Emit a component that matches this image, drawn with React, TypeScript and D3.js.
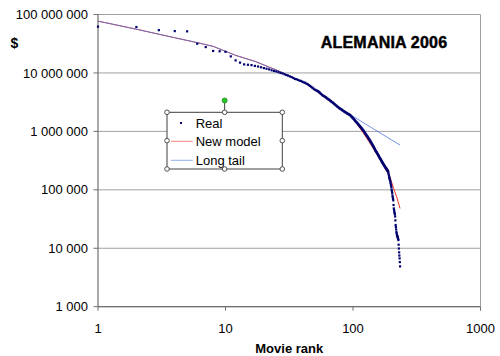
import React from "react";
import * as d3 from "d3";

// Real box office (thousands of $), ranks 1..234
const realValues: number[] = [
  62000, 61000, 54000, 52000, 51500, 31600, 27700, 23800, 23500, 23000,
  19200, 16400, 15000, 14000, 13800, 13600, 13200, 12900, 12500, 12100,
  11800, 11500, 11100, 10800, 10600, 10300, 10000, 9800, 9500, 9200,
  9000, 8700, 8500, 8200, 7900, 7800, 7600, 7400, 7300, 7100,
  6900, 6800, 6600, 6450, 6200, 6000, 5800, 5600, 5400, 5200,
  5100, 5000, 4900, 4750, 4600, 4400, 4250, 4100, 4050, 3950,
  3850, 3750, 3650, 3550, 3480, 3400, 3300, 3200, 3150, 3050,
  2980, 2900, 2830, 2750, 2680, 2620, 2570, 2500, 2450, 2420,
  2380, 2330, 2280, 2240, 2200, 2160, 2130, 2100, 2060, 2030,
  2000, 1980, 1950, 1920, 1900, 1850, 1800, 1760, 1720, 1680,
  1640, 1600, 1560, 1520, 1480, 1450, 1420, 1390, 1350, 1320,
  1290, 1260, 1230, 1200, 1180, 1150, 1120, 1100, 1070, 1050,
  1020, 995, 970, 945, 920, 895, 870, 850, 830, 810,
  790, 770, 750, 730, 715, 695, 675, 660, 640, 624,
  605, 590, 575, 560, 545, 530, 515, 500, 485, 470,
  460, 450, 440, 430, 420, 410, 400, 390, 380, 370,
  360, 352, 345, 338, 330, 322, 315, 308, 300, 294,
  288, 282, 276, 270, 263, 258, 254, 250, 245, 240,
  236, 232, 228, 224, 220, 216, 212, 208, 203, 190,
  178, 168, 160, 153, 147, 140, 132, 124, 117, 110,
  100, 95, 88, 80, 75, 70, 66, 55, 48, 45,
  42, 40, 38, 35, 30, 25, 23, 21, 19, 18,
  17, 16.5, 16, 15.5, 15, 14.5, 13.8, 11.5, 9.9, 8.5,
  7.5, 6.7, 5.8, 4.9,
];

const longTailRanks: number[] = [1, 2, 3, 4, 5, 6, 8, 12, 17, 27, 43, 74, 234];
const longTailValues: number[] = [77e6, 56e6, 46e6, 40e6, 36e6, 33e6, 28.5e6, 20e6, 15.8e6, 10.5e6, 6.5e6, 2.7e6, 582e3];

const newModelRanks: number[] = [1, 2, 3, 4, 5, 6, 8, 12, 17, 27, 43, 74, 83, 95, 120, 153, 195, 210, 220, 234];
const newModelValues: number[] = [77e6, 56e6, 46e6, 40e6, 36e6, 33e6, 28.5e6, 20e6, 15.8e6, 10.5e6, 6.5e6, 2.7e6, 2.3e6, 1.95e6, 0.95e6, 420e3, 166e3, 100e3, 76e3, 48e3];

const yTicks: number[] = [1e3, 1e4, 1e5, 1e6, 1e7, 1e8];
const yTickLabels: string[] = ["1 000", "10 000", "100 000", "1 000 000", "10 000 000", "100 000 000"];
const xTicks: number[] = [1, 10, 100, 1000];
const xTickLabels: string[] = ["1", "10", "100", "1000"];

const legendLabels: string[] = ["Real", "New model", "Long tail"];

const FONT = "Arial, 'Liberation Sans', sans-serif";

export default function App() {
  const W = 500, H = 356;
  const x = d3.scaleLog().domain([1, 1000]).range([98, 480.5]);
  const y = d3.scaleLog().domain([1000, 1e8]).range([306.7, 14.5]);

  const lineGen = d3
    .line<[number, number]>()
    .x((d) => x(d[0]))
    .y((d) => y(d[1]));

  const longTailPath = lineGen(longTailRanks.map((r, i) => [r, longTailValues[i]] as [number, number])) || "";
  const newModelPath = lineGen(newModelRanks.map((r, i) => [r, newModelValues[i]] as [number, number])) || "";

  const left = x(1), right = x(1000), top = y(1e8), bottom = y(1000);

  const lx0 = 167, lx1 = 282.3, ly0 = 112.3, ly1 = 169;
  const lmx = (lx0 + lx1) / 2, lmy = (ly0 + ly1) / 2;
  const handles: [number, number][] = [
    [lx0, ly0], [lmx, ly0], [lx1, ly0],
    [lx0, lmy], [lx1, lmy],
    [lx0, ly1], [lmx, ly1], [lx1, ly1],
  ];

  const blue = "#4a74e0";
  const red = "#f03828";
  const navy = "#000070";

  return (
    <svg
      width={W}
      height={H}
      style={{ position: "absolute", left: 0, top: 0, display: "block", background: "#fff" }}
      fontFamily={FONT}
    >
      <rect x={0} y={0} width={W} height={H} fill="#fff" />
      {/* gridlines */}
      {yTicks.map((t) => (
        <line key={"g" + t} x1={left} x2={right} y1={y(t)} y2={y(t)} stroke="#a0a0a0" strokeWidth={1} />
      ))}
      <line x1={right} x2={right} y1={top} y2={bottom} stroke="#a0a0a0" strokeWidth={1} />
      {/* axes */}
      <line x1={left} x2={left} y1={top} y2={bottom + 0.5} stroke="#707070" strokeWidth={1.2} />
      <line x1={left} x2={right} y1={bottom} y2={bottom} stroke="#707070" strokeWidth={1.2} />
      {yTicks.map((t, i) => (
        <g key={"yt" + t}>
          <line x1={left - 4.5} x2={left} y1={y(t)} y2={y(t)} stroke="#707070" strokeWidth={1} />
          <text x={88} y={y(t) + 4.6} textAnchor="end" fontSize={13} fill="#000">
            {yTickLabels[i]}
          </text>
        </g>
      ))}
      {xTicks.map((t, i) => (
        <g key={"xt" + t}>
          <line x1={x(t)} x2={x(t)} y1={bottom} y2={bottom + 4} stroke="#707070" strokeWidth={1} />
          <text x={x(t)} y={332.5} textAnchor="middle" fontSize={13} fill="#000">
            {xTickLabels[i]}
          </text>
        </g>
      ))}
      <text x={(left + right) / 2} y={353} textAnchor="middle" fontSize={13} fontWeight="bold" fill="#000">
        Movie rank
      </text>
      <text x={10.5} y={47.5} fontSize={14} fontWeight="bold" fill="#000">
        $
      </text>
      <text x={384} y={48.3} textAnchor="middle" fontSize={16} fontWeight="bold" fill="#000" stroke="#000" strokeWidth={0.45} letterSpacing={0.2}>
        ALEMANIA 2006
      </text>

      {/* lines */}
      <path d={newModelPath} fill="none" stroke={red} strokeWidth={1} />
      <path d={longTailPath} fill="none" stroke={blue} strokeWidth={1} strokeOpacity={0.78} />
      {/* Real dots */}
      {realValues.map((v, i) => (
        <rect key={"d" + i} x={x(i + 1) - 1.1} y={y(v * 1000) - 1.1} width={2.2} height={2.2} fill={navy} />
      ))}

      {/* legend */}
      <line x1={lmx} x2={lmx} y1={100.5} y2={ly0} stroke="#404040" strokeWidth={1} />
      <rect x={lx0} y={ly0} width={lx1 - lx0} height={ly1 - ly0} fill="#fff" stroke="#404040" strokeWidth={1} />
      <rect x={180} y={122} width={2} height={2} fill={navy} />
      <text x={195.7} y={127.6} fontSize={13} fill="#000">{legendLabels[0]}</text>
      <line x1={171} x2={192.7} y1={141.3} y2={141.3} stroke={red} strokeWidth={1} strokeOpacity={0.6} />
      <text x={195.7} y={145.8} fontSize={13} fill="#000">{legendLabels[1]}</text>
      <line x1={171} x2={192.7} y1={160.3} y2={160.3} stroke={blue} strokeWidth={1} strokeOpacity={0.6} />
      <text x={195.7} y={164.8} fontSize={13} fill="#000">{legendLabels[2]}</text>
      {handles.map(([hx, hy], i) => (
        <circle key={"h" + i} cx={hx} cy={hy} r={2.3} fill="#fff" stroke="#404040" strokeWidth={0.9} />
      ))}
      <circle cx={lmx} cy={100.5} r={2.5} fill="#22cc22" stroke="#208020" strokeWidth={0.8} />
    </svg>
  );
}
